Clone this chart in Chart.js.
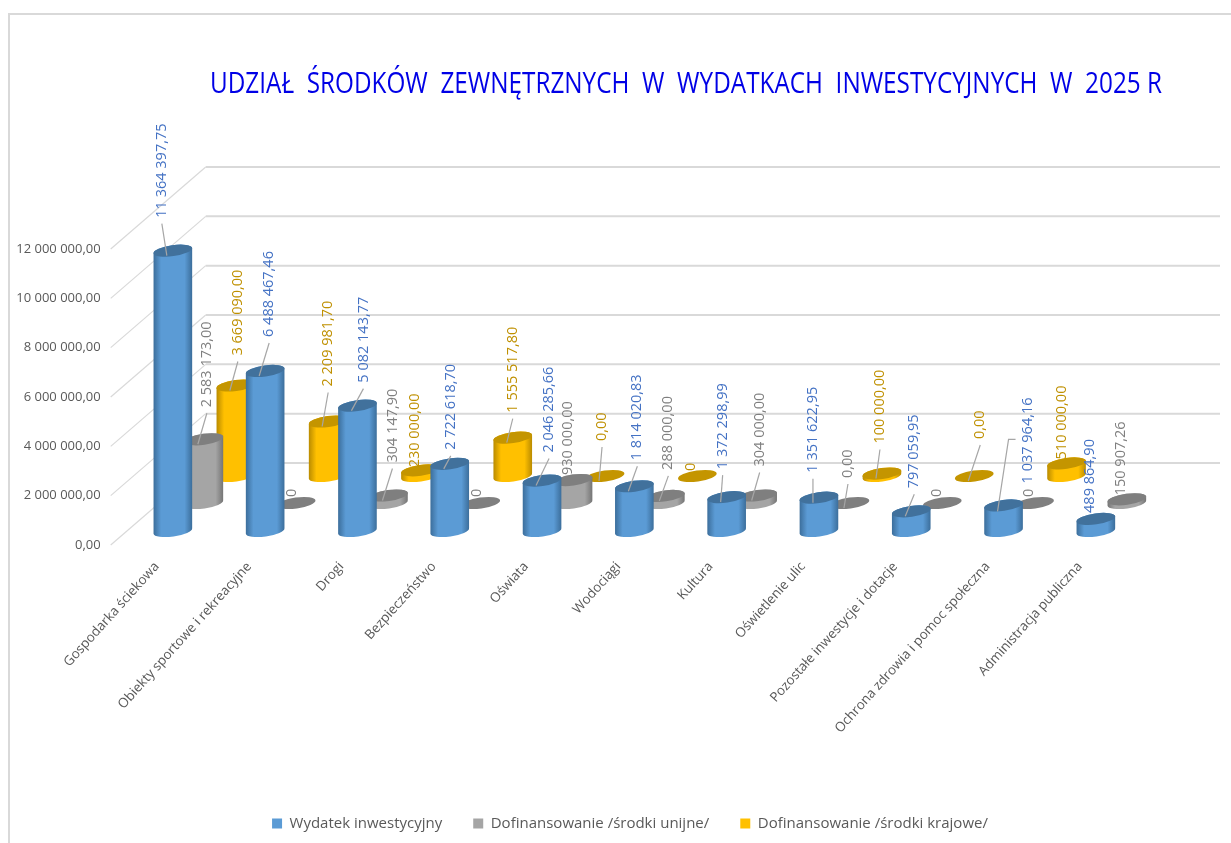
<!DOCTYPE html>
<html lang="pl">
<head>
<meta charset="utf-8">
<title>Udział środków zewnętrznych</title>
<script src="https://cdn.jsdelivr.net/npm/chart.js@4"></script>
<style>
    html, body { margin: 0; background: #fff; }
    canvas { display: block; }
</style>
</head>
<body>
<canvas id="chart" width="1231" height="843"></canvas>
<script>
const chartTitle = 'UDZIAŁ  ŚRODKÓW  ZEWNĘTRZNYCH  W  WYDATKACH  INWESTYCYJNYCH  W  2025 R';

const categories = ['Gospodarka ściekowa', 'Obiekty sportowe i rekreacyjne', 'Drogi', 'Bezpieczeństwo', 'Oświata', 'Wodociągi', 'Kultura', 'Oświetlenie ulic', 'Pozostałe inwestycje i dotacje', 'Ochrona zdrowia i pomoc społeczna', 'Administracja publiczna'];

const seriesNames = ['Wydatek inwestycyjny', 'Dofinansowanie /środki unijne/', 'Dofinansowanie /środki krajowe/'];

const wydatekValues = [11364397.75, 6488467.46, 5082143.77, 2722618.70, 2046285.66, 1814020.83, 1372298.99, 1351622.95, 797059.95, 1037964.16, 489864.90];
const unijneValues = [2583173.00, 0, 304147.90, 0, 930000.00, 288000.00, 304000.00, 0, 0, 0, 150907.26];
const krajoweValues = [3669090.00, 2209981.70, 230000.00, 1555517.80, 0, 0, null, 100000.00, 0, 510000.00, null];

const wydatekLabels = ['11 364 397,75', '6 488 467,46', '5 082 143,77', '2 722 618,70', '2 046 285,66', '1 814 020,83', '1 372 298,99', '1 351 622,95', '797 059,95', '1 037 964,16', '489 864,90'];
const unijneLabels = ['2 583 173,00', '0', '304 147,90', '0', '930 000,00', '288 000,00', '304 000,00', '0,00', '0', '0', '150 907,26'];
const krajoweLabels = ['3 669 090,00', '2 209 981,70', '230 000,00', '1 555 517,80', '0,00', '0', '', '100 000,00', '0,00', '510 000,00', ''];

const yTicks = ['0,00', '2 000 000,00', '4 000 000,00', '6 000 000,00', '8 000 000,00', '10 000 000,00', '12 000 000,00'];

// where each data label sits against the top of its cylinder: dx, dy, leader (0 none, 1 line, 2 elbow)
const wydatekLabelPos = [[-11, -33, 1], [4, -34, 1], [6, -23, 1], [1, -14, 1], [7, -28, 1], [3, -26, 1], [-4, -28, 1], [-6, -25, 1], [3, -23, 1], [24, -22, 2], [-6, -6, 0]];
const unijneLabelPos = [[3, -32, 1], [-4, -6, 0], [4, -33, 1], [-4, -6, 0], [-5, -5, 0], [3, -26, 1], [2, -29, 1], [-2, -25, 1], [-5, -6, 0], [-6, -6, 0], [-6, -4, 0]];
const krajoweLabelPos = [[2, -30, 1], [0, -35, 1], [-6, -3, 0], [0, -25, 1], [-3, -35, 1], [-6, -5, 0], null, [-2, -30, 1], [6, -37, 1], [-5, -4, 0], null];

// look of the three series, front row first
const seriesStyle = [
    { dx: 16, dy: 14, edge: '#3b6d9a', body: '#5b9bd5', top: '#41719c', text: '#4472c4', labels: wydatekLabels, pos: wydatekLabelPos },
    { dx: 47, dy: 42, edge: '#747474', body: '#a5a5a5', top: '#7f7f7f', text: '#7f7f7f', labels: unijneLabels, pos: unijneLabelPos },
    { dx: 79, dy: 69, edge: '#b88a00', body: '#ffc000', top: '#c49500', text: '#bf9000', labels: krajoweLabels, pos: krajoweLabelPos }
];

const wallDx = 95, wallDy = 82;
const plotTop = 249, plotBottom = 545;
const tilt = -8 * Math.PI / 180;
const capHeight = 5.5;

const framePlugin = {
    id: 'frame',
    afterLayout(chart) {
        // legend is not centred on the canvas in the original
        chart.legend.left += 67;
        chart.legend.right += 67;
        const h = chart.legend.height;
        chart.legend.top = 822 - h / 2 - 9;
        chart.legend.bottom = chart.legend.top + h;
    },
    beforeDraw(chart) {
        const ctx = chart.ctx;
        ctx.save();
        ctx.strokeStyle = '#d9d9d9';
        ctx.lineWidth = 2;
        ctx.beginPath();
        ctx.moveTo(9, 843);
        ctx.lineTo(9, 14);
        ctx.lineTo(1231, 14);
        ctx.stroke();

        // 3D walls: every tick runs back from the axis, then along the back
        const yScale = chart.scales.y;
        const left = chart.chartArea.left;
        yScale.ticks.forEach(tick => {
            const y = yScale.getPixelForValue(tick.value);
            ctx.lineWidth = 1.2;
            ctx.beginPath();
            ctx.moveTo(left, y);
            ctx.lineTo(left + wallDx, y - wallDy);
            ctx.stroke();
            ctx.lineWidth = 2;
            ctx.beginPath();
            ctx.moveTo(left + wallDx, y - wallDy);
            ctx.lineTo(1220, y - wallDy);
            ctx.stroke();
        });

        // the title is squeezed sideways in the original, so it is fitted to its width here
        ctx.font = '30px "Open Sans"';
        ctx.fillStyle = '#0000e6';
        ctx.textAlign = 'left';
        ctx.textBaseline = 'alphabetic';
        ctx.translate(210, 93);
        ctx.scale(952 / ctx.measureText(chartTitle).width, 1);
        ctx.fillText(chartTitle, 0, 0);
        ctx.restore();
    }
};

function drawCylinder(ctx, bar, style) {
    const cx = bar.x + style.dx;
    const rx = bar.width / 2;
    const topY = bar.y - style.dy;
    const baseY = bar.base - style.dy;

    if (baseY - topY > 0.5) {
        const grad = ctx.createLinearGradient(cx - rx, 0, cx + rx, 0);
        grad.addColorStop(0, style.edge);
        grad.addColorStop(0.2, style.body);
        grad.addColorStop(0.8, style.body);
        grad.addColorStop(1, style.edge);
        ctx.fillStyle = grad;
        ctx.beginPath();
        ctx.ellipse(cx, baseY, rx, capHeight, tilt, 0, Math.PI);
        ctx.ellipse(cx, topY, rx, capHeight, tilt, Math.PI, 2 * Math.PI);
        ctx.closePath();
        ctx.fill();
    }
    ctx.fillStyle = style.top;
    ctx.beginPath();
    ctx.ellipse(cx, topY, rx, capHeight, tilt, 0, 2 * Math.PI);
    ctx.fill();
}

const cylinderPlugin = {
    id: 'cylinders',
    beforeDatasetDraw(chart, args) {
        const ctx = chart.ctx;
        const style = seriesStyle[args.index];
        const values = chart.data.datasets[args.index].data;
        ctx.save();
        args.meta.data.forEach((bar, i) => {
            if (values[i] !== null) drawCylinder(ctx, bar, style);
        });
        ctx.restore();
        return false;
    },
    afterDatasetsDraw(chart) {
        const ctx = chart.ctx;
        ctx.save();
        ctx.font = '14.5px "Open Sans"';
        ctx.textAlign = 'left';
        ctx.textBaseline = 'middle';
        seriesStyle.forEach((style, s) => {
            chart.getDatasetMeta(s).data.forEach((bar, i) => {
                const pos = style.pos[i];
                if (!pos) return;
                const cx = bar.x + style.dx;
                const topY = bar.y - style.dy;
                const lx = cx + pos[0];
                const ly = topY + pos[1];

                ctx.strokeStyle = '#a6a6a6';
                ctx.lineWidth = 1.2;
                if (pos[2] === 1) {
                    ctx.beginPath();
                    ctx.moveTo(cx - 6, topY + 5);
                    ctx.lineTo(lx, ly + 6);
                    ctx.stroke();
                } else if (pos[2] === 2) {
                    ctx.beginPath();
                    ctx.moveTo(cx - 6, topY + 6);
                    ctx.lineTo(cx + 5, topY - 66);
                    ctx.lineTo(cx + 12, topY - 66);
                    ctx.stroke();
                }

                ctx.save();
                ctx.translate(lx, ly);
                ctx.rotate(-Math.PI / 2);
                ctx.fillStyle = style.text;
                ctx.fillText(style.labels[i], 0, 0);
                ctx.restore();
            });
        });
        ctx.restore();
    }
};

new Chart(document.getElementById('chart'), {
    type: 'bar',
    data: {
        labels: categories,
        datasets: [
            { label: seriesNames[0], data: wydatekValues, backgroundColor: '#5b9bd5', grouped: false, barThickness: 39 },
            { label: seriesNames[1], data: unijneValues, backgroundColor: '#a5a5a5', grouped: false, barThickness: 39 },
            { label: seriesNames[2], data: krajoweValues, backgroundColor: '#ffc000', grouped: false, barThickness: 39 }
        ]
    },
    options: {
        responsive: false,
        animation: false,
        layout: { autoPadding: false, padding: { left: 0, right: 105, top: plotTop, bottom: 0 } },
        plugins: {
            tooltip: { enabled: false },
            legend: {
                position: 'bottom',
                labels: { boxWidth: 10, boxHeight: 10, padding: 31, color: '#595959', font: { family: '"Open Sans"', size: 15 } }
            }
        },
        scales: {
            x: {
                grid: { display: false },
                border: { display: false },
                afterFit(scale) { scale.height = 843 - plotBottom - scale.chart.legend.height; },
                ticks: {
                    autoSkip: false,
                    minRotation: 48,
                    maxRotation: 48,
                    padding: 6,
                    color: '#595959',
                    font: { family: '"Open Sans"', size: 13.3 }
                }
            },
            y: {
                min: 0,
                max: 12000000,
                grid: { display: false },
                border: { display: false },
                afterFit(scale) { scale.width = 110.7; },
                ticks: {
                    stepSize: 2000000,
                    padding: 2,
                    color: '#595959',
                    font: { family: '"Open Sans"', size: 13 },
                    callback: (value) => yTicks[value / 2000000]
                }
            }
        }
    },
    plugins: [framePlugin, cylinderPlugin]
});
</script>
</body>
</html>
